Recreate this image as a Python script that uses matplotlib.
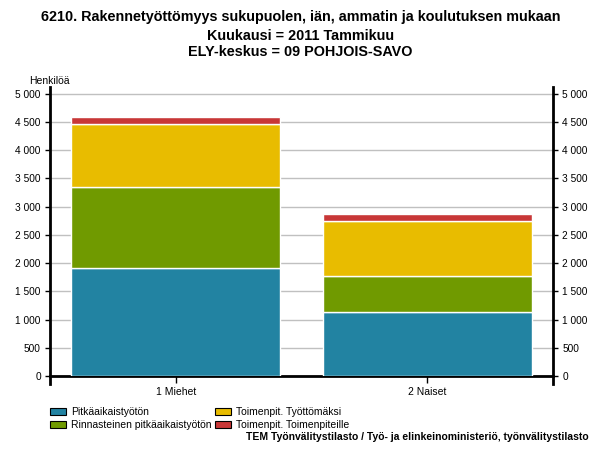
import numpy as np
import matplotlib.pyplot as plt
from matplotlib.patches import Patch
from matplotlib.ticker import FuncFormatter

plt.rcParams['font.family'] = ['Liberation Sans', 'DejaVu Sans']

kategoriat = ["1 Miehet", "2 Naiset"]
sarjat = ["Pitkäaikaistyötön", "Rinnasteinen pitkäaikaistyötön",
          "Toimenpit. Työttömäksi", "Toimenpit. Toimenpiteille"]
pitkaaikais = [1920, 1129]
rinnasteinen = [1426, 649]
tyottomaksi = [1110, 970]
toimenpiteille = [136, 124]
varit = ["#2283a2", "#709a00", "#e8bc00", "#c83737"]

arvot = [pitkaaikais, rinnasteinen, tyottomaksi, toimenpiteille]

fig = plt.figure(figsize=(6.01, 4.51), dpi=100)
ax = fig.add_axes([50/601, 1-376/451, 503/601, 289/451])

x = np.arange(len(kategoriat))
pohja = np.zeros(len(kategoriat))
for sarja, v, c in zip(sarjat, arvot, varit):
    ax.bar(x, v, 0.83, bottom=pohja, color=c, edgecolor="white", linewidth=1, zorder=3)
    pohja += np.array(v)

ax.set_xlim(-0.5, 1.5)
ax.set_ylim(0, 5120)
ax.set_yticks(np.arange(0, 5001, 500))
fmt = FuncFormatter(lambda v, p: f"{int(v):,}".replace(",", " "))
ax.yaxis.set_major_formatter(fmt)
ax.tick_params(axis="y", which="both", labelsize=7.3, length=3.6, width=1, pad=3,
               left=True, right=True, labelleft=True, labelright=True)
ax.set_xticks(x)
ax.set_xticklabels(kategoriat, fontsize=7.5)
ax.tick_params(axis="x", length=5, width=1, pad=3)
ax.grid(axis="y", color="#c0c0c0", linewidth=1, zorder=0)
ax.spines["top"].set_visible(False)
for s in ["left", "right", "bottom"]:
    ax.spines[s].set_linewidth(2)
ax.spines["left"].set_bounds(-140, 5120)
ax.spines["right"].set_bounds(-140, 5120)

fig.text(0.5, 1-17/451, "6210. Rakennetyöttömyys sukupuolen, iän, ammatin ja koulutuksen mukaan",
         ha="center", va="center", fontsize=10.4, fontweight="bold")
fig.text(0.5, 1-36/451, "Kuukausi = 2011 Tammikuu", ha="center", va="center",
         fontsize=10.4, fontweight="bold")
fig.text(0.5, 1-52/451, "ELY-keskus = 09 POHJOIS-SAVO", ha="center", va="center",
         fontsize=10.4, fontweight="bold")
fig.text(29/601, 1-81/451, "Henkilöä", ha="left", va="center", fontsize=7.5)

kahvat = [Patch(facecolor=c, edgecolor="black", linewidth=0.8) for c in varit]
fig.legend(kahvat, sarjat, loc="upper left", bbox_to_anchor=(50/601, 1-407/451),
           ncol=2, frameon=False, fontsize=7.5, handlelength=1.55, handleheight=0.62,
           handletextpad=0.45, columnspacing=0.35, labelspacing=0.28, borderpad=0,
           borderaxespad=0)

fig.text(589/601, 1-437.5/451, "TEM Työnvälitystilasto / Työ- ja elinkeinoministeriö, työnvälitystilasto",
         ha="right", va="center", fontsize=7.5, fontweight="bold")

plt.savefig("out.png", dpi=100)
